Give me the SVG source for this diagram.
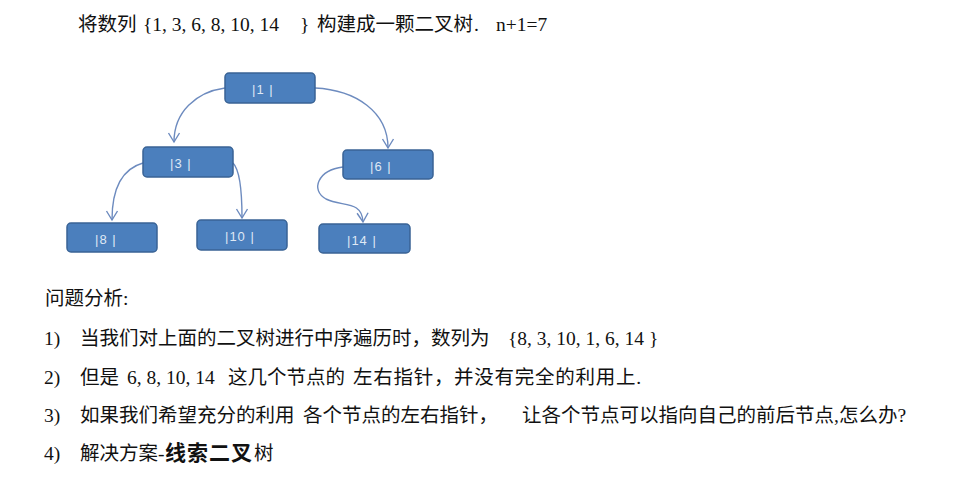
<svg xmlns="http://www.w3.org/2000/svg" width="974" height="478" viewBox="0 0 974 478">
  <defs>
    <style>
      .doc { font-family: "Liberation Serif", "Noto Sans CJK SC", serif; font-size: 19.5px; fill: #111; }
      .strong { font-family: "Liberation Sans", "Noto Sans CJK SC", sans-serif; font-weight: bold; font-size: 21px; }
      .box { fill: #4b7fbd; stroke: #3a6395; stroke-width: 1.5; }
      .lbl { font-family: "Liberation Sans", Arial, sans-serif; font-size: 13px; fill: #dfe8f5; letter-spacing: 1px; }
      .edge { fill: none; stroke: #6d8bbf; stroke-width: 1.4; marker-end: url(#arr); }
    </style>
    <marker id="arr" markerUnits="userSpaceOnUse" markerWidth="14" markerHeight="14" refX="0" refY="0" viewBox="-10 -7 12 14" orient="auto">
      <path d="M-9,-5.5 L0,0 L-9,5.5" fill="none" stroke="#6d8bbf" stroke-width="1.4"/>
    </marker>
  </defs>

  <rect width="974" height="478" fill="#ffffff"/>

  <!-- heading line -->
  <text class="doc" y="31">
    <tspan x="78">将数列</tspan>
    <tspan x="143">{1, 3, 6, 8, 10, 14</tspan>
    <tspan x="300">}</tspan>
    <tspan x="317">构建成一颗二叉树</tspan>
    <tspan x="474">.</tspan>
    <tspan x="496">n+1=7</tspan>
  </text>

  <!-- connectors -->
  <g id="edges">
    <path class="edge" d="M225,88 C196,92 174,112 174,142"/>
    <path class="edge" d="M315,88 C356,90 388,112 388,148"/>
    <path class="edge" d="M143,163 C118,170 112,195 112,220"/>
    <path class="edge" d="M233,163 C240,170 242,190 242,218"/>
    <path class="edge" d="M343,167 C318,170 310,190 326,199 C342,207 362,200 363,222"/>
  </g>

  <!-- tree nodes -->
  <g id="n1">
    <rect class="box" x="225" y="73" width="90" height="30" rx="4"/>
    <text class="lbl" x="252" y="94">|1 |</text>
  </g>
  <g id="n3">
    <rect class="box" x="143" y="147" width="90" height="30" rx="4"/>
    <text class="lbl" x="170" y="168">|3 |</text>
  </g>
  <g id="n6">
    <rect class="box" x="343" y="150" width="90" height="29" rx="4"/>
    <text class="lbl" x="370" y="171">|6 |</text>
  </g>
  <g id="n8">
    <rect class="box" x="67" y="223" width="90" height="29" rx="4"/>
    <text class="lbl" x="95" y="244">|8 |</text>
  </g>
  <g id="n10">
    <rect class="box" x="197" y="220" width="90" height="30" rx="4"/>
    <text class="lbl" x="225" y="241">|10 |</text>
  </g>
  <g id="n14">
    <rect class="box" x="319" y="224" width="91" height="29" rx="4"/>
    <text class="lbl" x="347" y="245">|14 |</text>
  </g>

  <!-- analysis notes -->
  <text class="doc" x="45" y="305">问题分析:</text>

  <text class="doc" y="345">
    <tspan x="44">1)</tspan>
    <tspan x="80">当我们对上面的二叉树进行中序遍历时，数列为</tspan>
    <tspan x="508">{8, 3, 10, 1, 6, 14 }</tspan>
  </text>

  <text class="doc" y="384">
    <tspan x="44">2)</tspan>
    <tspan x="80">但是</tspan>
    <tspan x="127">6, 8, 10, 14</tspan>
    <tspan x="228">这几个节点的</tspan>
    <tspan x="353" textLength="288" lengthAdjust="spacing">左右指针，并没有完全的利用上.</tspan>
  </text>

  <text class="doc" y="422">
    <tspan x="44">3)</tspan>
    <tspan x="80">如果我们希望充分的利用</tspan>
    <tspan x="303">各个节点的左右指针，</tspan>
    <tspan x="522">让各个节点可以指向自己的前后节点,怎么办?</tspan>
  </text>

  <text class="doc" y="460">
    <tspan x="44">4)</tspan>
    <tspan x="80">解决方案-</tspan>
    <tspan x="165" class="strong" letter-spacing="1">线索二叉</tspan>
    <tspan x="254">树</tspan>
  </text>
</svg>
